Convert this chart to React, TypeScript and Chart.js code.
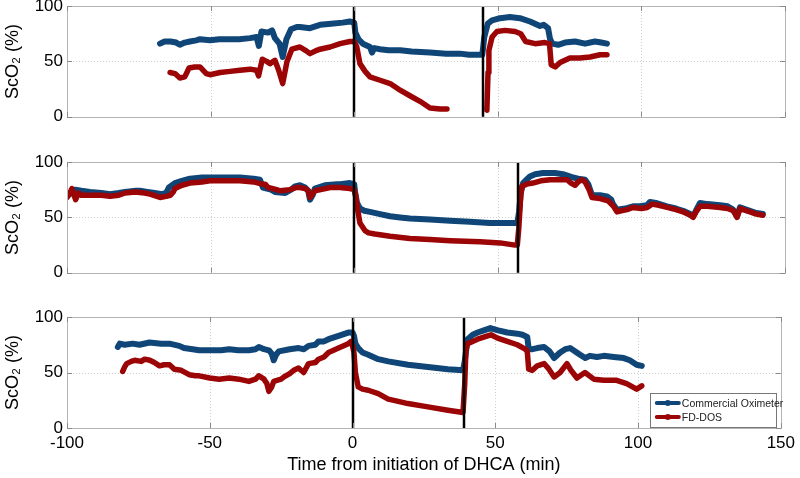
import React, { useEffect, useRef } from "react";
import { Chart, registerables } from "chart.js";

Chart.register(...registerables);

// ---------- axis ticks ----------
const X_TICKS = [-100, -50, 0, 50, 100, 150];
const Y_TICKS = [0, 50, 100];
const X_TITLE = "Time from initiation of DHCA (min)";
const Y_TITLE = "ScO\u2082 (%)";
const SERIES_NAMES = ["Commercial Oximeter", "FD-DOS"];

// ---------- panel 1 ----------
const p1Oximeter: [number, number | null][] = [
  [-67.6, 66], [-66, 68], [-64, 68], [-62, 67], [-60.7, 65], [-59, 67], [-57.2, 68], [-55, 69],
  [-53.7, 70], [-50.2, 69], [-47, 70], [-43.2, 70], [-40, 70], [-36.3, 71], [-34, 72], [-33.2, 64],
  [-32.3, 77], [-30, 76], [-28.6, 78], [-27.6, 71], [-26, 66], [-24.9, 54], [-23.6, 70], [-22, 79],
  [-20, 81], [-18.9, 81], [-15.4, 80], [-11.9, 83], [-8, 84], [-4, 85], [-1.5, 86], [0, 85],
  [0.4, 76], [1.5, 70], [3, 66], [5.5, 63], [6.2, 58], [7, 62], [9, 61], [12, 60], [16, 60],
  [20, 59], [26.4, 58], [32, 57], [36.8, 57], [40, 56], [43.8, 56], [44.6, 56], [45.3, 72],
  [46.5, 84], [48, 87], [50.8, 89], [54.2, 90], [57.7, 89], [61.2, 86], [64.7, 82], [66, 83],
  [67.5, 80], [68.2, 70], [69, 66], [71, 65], [73.4, 67], [76.9, 68], [80.4, 66], [83.8, 68],
  [86, 67], [88, 66],
];
const p1FdDos: [number, number | null][] = [
  [-64.1, 40], [-62.4, 39], [-60.7, 35], [-59, 36], [-57.5, 44], [-55.5, 45], [-53.7, 45],
  [-51.5, 39], [-50.2, 38], [-46.7, 40], [-43.2, 41], [-39.8, 42], [-36.3, 43], [-34, 42],
  [-33.3, 37], [-32, 52], [-30.5, 50], [-29.3, 48], [-27.6, 51], [-26.3, 42], [-24.9, 30],
  [-23.4, 50], [-21.7, 61], [-18.9, 63], [-17, 60], [-15.4, 57], [-13, 60], [-11.9, 61],
  [-8.4, 63], [-4.9, 66], [-1.5, 68], [0, 68], [0.9, 63], [2, 48], [3.8, 41], [5.5, 36], [9, 33],
  [12.5, 30], [16, 24], [19.4, 19], [22.9, 14], [26.4, 8], [29.9, 7], [32.3, 7], [39, null],
  [46.2, 6], [46.6, 40], [46.9, 60], [48, 72], [49.7, 77], [52.5, 78], [56, 77], [58, 75],
  [59.7, 68], [63, 66], [66.4, 67], [68, 66], [68.6, 47], [70, 45], [71.7, 49], [75.1, 53],
  [78.6, 53], [82.1, 54], [85.6, 56], [88, 56],
];
const p1Events = [0, 45];

// ---------- panel 2 ----------
const p2Oximeter: [number, number | null][] = [
  [-99.5, 70], [-98, 73], [-97.2, 75], [-95, 74], [-92, 73], [-88, 72], [-85, 71], [-82, 72],
  [-79.8, 73], [-76, 74], [-74.6, 74], [-72, 73], [-69.4, 72], [-67, 71], [-65.5, 72],
  [-64.5, 77], [-62.4, 81], [-60, 83], [-57.2, 85], [-53, 86], [-50.2, 86], [-45, 86],
  [-39.8, 86], [-35, 85], [-32.8, 84], [-31.8, 77], [-29, 75], [-27.6, 73], [-24, 72], [-22, 75],
  [-20.6, 78], [-18.9, 79], [-17.1, 77], [-16, 74], [-15.4, 66], [-14.5, 70], [-13.7, 76],
  [-10.2, 79], [-6, 80], [-4.9, 80], [-1.5, 81], [0, 80], [0.3, 73], [1, 63], [2, 58], [3.5, 56],
  [5.5, 55], [9, 53], [12.5, 51], [16, 50], [19.4, 49], [26.4, 48], [33.4, 47], [40.3, 46],
  [47.3, 45], [52, 45], [56.8, 45], [57.4, 55], [58, 72], [58.8, 81], [60, 84], [61.2, 87],
  [63, 89], [65.7, 90], [69.9, 90], [72.7, 89], [74, 88], [76.2, 86], [78, 85], [80.4, 84],
  [81.5, 80], [82.8, 70], [85.6, 70], [88, 69], [89.5, 66], [90.1, 62], [91.5, 57], [94.3, 58],
  [97.1, 60], [99.5, 60], [101.9, 61], [103, 64], [105, 63], [108.9, 60], [112, 58],
  [114.5, 56], [117, 53], [118, 51], [119, 56], [120.4, 63], [123, 62], [127.4, 61], [130, 60],
  [131.9, 57], [133.3, 51], [134.3, 59], [137.8, 56], [140, 54], [142.3, 53],
];
const p2FdDos: [number, number | null][] = [
  [-100, 68], [-99, 72], [-98.3, 76], [-97.5, 70], [-97, 66], [-96, 72], [-95, 70], [-92, 70],
  [-88, 70], [-85, 69], [-82, 70], [-79.8, 72], [-76.3, 73], [-73, 72], [-71.1, 71], [-67.6, 68],
  [-65.5, 69], [-64, 70], [-63, 73], [-62.4, 76], [-60, 79], [-57.2, 81], [-53, 82], [-50.2, 83],
  [-45, 83], [-39.8, 83], [-35, 82], [-32.1, 80], [-31, 80], [-30, 77], [-27, 75], [-25.8, 74],
  [-22.4, 75], [-20, 77], [-18.9, 77], [-17.1, 76], [-16, 74], [-15.4, 68], [-14.5, 71],
  [-13.7, 74], [-10, 76], [-8.4, 77], [-5, 77], [-1.5, 76], [0, 75], [0.5, 70], [1, 60], [2, 45],
  [3.8, 38], [5, 36], [7.2, 35], [12.5, 33], [19.4, 31], [26.4, 30], [33.4, 29], [43.8, 28],
  [50.8, 27], [56, 25], [56.8, 25], [57.3, 40], [58, 70], [58.4, 78], [60, 80], [62.2, 81],
  [65, 83], [68.2, 84], [71, 84], [74.1, 84], [75.5, 81], [76.9, 79], [78, 82], [79.3, 84],
  [80.4, 82], [81.8, 75], [82.8, 68], [85.6, 67], [88.4, 65], [90.3, 60], [91.5, 55], [93, 56],
  [95, 57], [97, 59], [100, 58], [102, 59], [103.7, 62], [106, 61], [109, 59], [112, 57],
  [114.5, 55], [117, 52], [118, 50], [119, 55], [120.4, 60], [123, 60], [127.4, 59], [130, 58],
  [132, 56], [133.3, 50], [134.3, 58], [137.8, 55], [140, 53], [142.3, 52],
];
const p2Events = [0, 57];

// ---------- panel 3 ----------
const p3Oximeter: [number, number | null][] = [
  [-82.2, 73], [-81.5, 76], [-79.8, 75], [-77, 76], [-74.6, 75], [-71.1, 77], [-67, 76],
  [-64.1, 76], [-60.7, 74], [-59, 72], [-56, 71], [-53.7, 70], [-50, 70], [-46, 70], [-43.2, 71],
  [-40, 70], [-36.3, 70], [-34, 71], [-32.8, 73], [-31, 71], [-29.3, 70], [-28.3, 67],
  [-27.6, 61], [-26.8, 66], [-25.8, 69], [-22, 71], [-18.9, 72], [-17, 71], [-15.4, 74],
  [-13, 75], [-11.9, 78], [-10, 78], [-8.4, 80], [-4.9, 83], [-1.5, 86], [0, 86], [0.5, 83],
  [1, 76], [2, 72], [3.5, 68], [5.5, 66], [9, 62], [12.5, 60], [19.4, 57], [26.4, 55],
  [33.4, 53], [38.7, 52], [39.3, 60], [40.3, 80], [42.1, 84], [43.8, 86], [46, 88], [48.3, 90],
  [51, 88], [54.2, 86], [57.7, 85], [59.5, 84], [61.2, 82], [61.7, 71], [63, 71], [64.7, 72],
  [67.1, 73], [69, 69], [70.6, 63], [72.7, 68], [74.5, 71], [76.2, 72], [78, 69], [79.7, 66],
  [81.5, 63], [83.1, 65], [85.6, 64], [88, 65], [91.5, 64], [95, 63], [97.1, 61], [99.5, 57],
  [101.3, 56],
];
const p3FdDos: [number, number | null][] = [
  [-80.5, 51], [-79.8, 55], [-79.1, 58], [-77.5, 60], [-76.3, 61], [-74, 60], [-72.8, 62],
  [-71, 61], [-69.4, 59], [-67.6, 56], [-66, 57], [-64.1, 57], [-62.4, 53], [-60, 52],
  [-57.2, 48], [-55, 47], [-53.7, 47], [-50, 45], [-46.7, 44], [-43.2, 45], [-39.8, 44],
  [-36.3, 42], [-34, 44], [-32.8, 47], [-31, 44], [-30, 40], [-29.3, 33], [-28.3, 37],
  [-27.6, 42], [-25, 44], [-24, 46], [-22, 49], [-20.6, 52], [-18.9, 54], [-17.1, 50],
  [-15.4, 58], [-13, 59], [-11.9, 62], [-10, 64], [-8.4, 68], [-4.9, 72], [-1.5, 76],
  [-0.5, 78], [0, 74], [0.5, 68], [1, 50], [2, 37], [3.5, 35], [5.5, 34], [9, 31], [12.5, 26],
  [16, 24], [19.4, 22], [26.4, 19], [33.4, 16], [38.7, 14], [39.3, 40], [39.7, 70], [40.3, 76],
  [43.8, 80], [47.3, 83], [48.5, 84], [50.8, 81], [54.2, 78], [57.7, 75], [60.5, 71],
  [61.2, 69], [61.7, 53], [63, 52], [64.7, 56], [67.1, 58], [68.5, 54], [70.6, 46], [72.7, 50],
  [75.1, 58], [76.5, 52], [78.6, 45], [81.4, 50], [84.5, 44], [88, 43], [92.5, 43], [96, 40],
  [99.5, 35], [101.3, 38],
];
const p3Events = [0, 39];

// ---------- styles ----------
const BLUE = "#0f4677";
const RED = "#9c0505";
const FONT = "'Liberation Sans', Arial, Helvetica, sans-serif";

const framePlugin = {
  id: "frame",
  beforeDatasetsDraw(chart: any) {
    const { ctx, chartArea: a, scales } = chart;
    ctx.save();
    ctx.strokeStyle = "#cfcfcf";
    ctx.lineWidth = 1;
    ctx.setLineDash([1, 2]);
    X_TICKS.forEach((v) => {
      const px = Math.round(scales.x.getPixelForValue(v)) + 0.5;
      ctx.beginPath();
      ctx.moveTo(px, a.top);
      ctx.lineTo(px, a.bottom);
      ctx.stroke();
    });
    Y_TICKS.forEach((v) => {
      const py = Math.round(scales.y.getPixelForValue(v)) + 0.5;
      ctx.beginPath();
      ctx.moveTo(a.left, py);
      ctx.lineTo(a.right, py);
      ctx.stroke();
    });
    ctx.restore();
  },
  afterDatasetsDraw(chart: any, _args: any, opts: any) {
    const { ctx, chartArea: a, scales } = chart;
    ctx.save();
    // event lines
    ctx.strokeStyle = "#000";
    ctx.lineWidth = 2.5;
    (opts.events || []).forEach((v: number) => {
      const px = Math.round(scales.x.getPixelForValue(v));
      ctx.beginPath();
      ctx.moveTo(px, a.top);
      ctx.lineTo(px, a.bottom);
      ctx.stroke();
    });
    // box
    ctx.strokeStyle = "#b4b4b4";
    ctx.lineWidth = 1;
    ctx.strokeRect(Math.round(a.left) + 0.5, Math.round(a.top) + 0.5, Math.round(a.right - a.left), Math.round(a.bottom - a.top));
    // tick marks
    ctx.strokeStyle = "#8a8a8a";
    X_TICKS.forEach((v) => {
      const px = Math.round(scales.x.getPixelForValue(v)) + 0.5;
      ctx.beginPath();
      ctx.moveTo(px, a.bottom);
      ctx.lineTo(px, a.bottom - 5);
      ctx.moveTo(px, a.top);
      ctx.lineTo(px, a.top + 5);
      ctx.stroke();
    });
    Y_TICKS.forEach((v) => {
      const py = Math.round(scales.y.getPixelForValue(v)) + 0.5;
      ctx.beginPath();
      ctx.moveTo(a.left, py);
      ctx.lineTo(a.left + 5, py);
      ctx.moveTo(a.right, py);
      ctx.lineTo(a.right - 5, py);
      ctx.stroke();
    });
    // legend
    if (opts.legend) {
      const w = 126;
      const h = 34;
      const right = a.right - 5;
      const bottom = a.bottom - 1;
      const left = right - w;
      const top = bottom - h;
      ctx.fillStyle = "#fff";
      ctx.fillRect(left, top, w, h);
      ctx.strokeStyle = "#777";
      ctx.lineWidth = 1;
      ctx.strokeRect(Math.round(left) + 0.5, Math.round(top) + 0.5, w, h);
      const ds = chart.data.datasets;
      const order = [1, 0];
      order.forEach((di, row) => {
        const d = ds[di];
        const y = Math.round(top + 10 + row * 14);
        ctx.strokeStyle = d.borderColor;
        ctx.lineWidth = 4;
        ctx.lineCap = "round";
        ctx.beginPath();
        ctx.moveTo(left + 7, y);
        ctx.lineTo(left + 29, y);
        ctx.stroke();
        ctx.fillStyle = d.borderColor;
        ctx.beginPath();
        ctx.arc(left + 18, y, 3, 0, Math.PI * 2);
        ctx.fill();
        ctx.fillStyle = "#222";
        ctx.font = `10.5px ${FONT}`;
        ctx.textBaseline = "middle";
        ctx.textAlign = "left";
        ctx.fillText(d.label, left + 32, y + 1);
      });
    }
    ctx.restore();
  },
};

type Series = [number, number | null][];

function toXY(s: Series) {
  return s.map(([x, y]) => ({ x, y }));
}

function Panel(props: {
  oximeter: Series;
  fdDos: Series;
  events: number[];
  showX: boolean;
  legend: boolean;
  top: number;
  height: number;
}) {
  const ref = useRef<HTMLCanvasElement | null>(null);
  useEffect(() => {
    if (!ref.current) return;
    const tickFont = { family: FONT, size: 17 };
    const chart = new Chart(ref.current, {
      type: "line",
      data: {
        datasets: [
          {
            label: SERIES_NAMES[1],
            data: toXY(props.fdDos) as any,
            borderColor: RED,
            backgroundColor: RED,
            borderWidth: 5.5,
            pointRadius: 0,
            borderJoinStyle: "round",
            borderCapStyle: "round",
            tension: 0,
            order: 0,
          },
          {
            label: SERIES_NAMES[0],
            data: toXY(props.oximeter) as any,
            borderColor: BLUE,
            backgroundColor: BLUE,
            borderWidth: 6,
            pointRadius: 0,
            borderJoinStyle: "round",
            borderCapStyle: "round",
            tension: 0,
            order: 1,
          },
        ],
      },
      options: {
        animation: false,
        responsive: false,
        maintainAspectRatio: false,
        events: [],
        layout: { padding: { top: 20, bottom: props.showX ? 0 : 14, left: 0, right: 15 } },
        plugins: {
          legend: { display: false },
          tooltip: { enabled: false },
          // @ts-ignore
          frame: { events: props.events, legend: props.legend },
        },
        scales: {
          x: {
            type: "linear",
            min: X_TICKS[0],
            max: X_TICKS[X_TICKS.length - 1],
            afterBuildTicks: (s: any) => {
              s.ticks = X_TICKS.map((v) => ({ value: v }));
            },
            afterFit: (s: any) => {
              s.height = props.showX ? 50 : 0;
            },
            grid: { display: false, drawTicks: false },
            border: { display: false },
            ticks: {
              display: props.showX,
              font: tickFont,
              color: "#000",
              padding: 5,
              maxRotation: 0,
              autoSkip: false,
              callback: (v: any) => String(v),
            },
            title: {
              display: props.showX,
              text: X_TITLE,
              font: { family: FONT, size: 18 },
              color: "#000",
              padding: { top: 0, bottom: 2 },
            },
          },
          y: {
            type: "linear",
            min: Y_TICKS[0],
            max: Y_TICKS[Y_TICKS.length - 1],
            afterBuildTicks: (s: any) => {
              s.ticks = Y_TICKS.map((v) => ({ value: v }));
            },
            afterFit: (s: any) => {
              s.width = 67;
            },
            grid: { display: false, drawTicks: false },
            border: { display: false },
            ticks: {
              font: tickFont,
              color: "#000",
              padding: 4,
              callback: (v: any) => String(v),
            },
            title: {
              display: true,
              text: Y_TITLE,
              font: { family: FONT, size: 18 },
              color: "#000",
              padding: { top: 2, bottom: 0 },
            },
          },
        },
      },
      plugins: [framePlugin],
    });
    return () => chart.destroy();
  }, []);
  return (
    <div style={{ position: "absolute", left: 0, top: props.top, width: 800, height: props.height }}>
      <canvas ref={ref} width={800} height={props.height} style={{ width: 800, height: props.height, display: "block" }} />
    </div>
  );
}

export default function App() {
  return (
    <div style={{ position: "absolute", left: 0, top: 0, width: 800, height: 478, overflow: "hidden", background: "#fff" }}>
      <Panel oximeter={p1Oximeter} fdDos={p1FdDos} events={p1Events} showX={false} legend={false} top={-14} height={145} />
      <Panel oximeter={p2Oximeter} fdDos={p2FdDos} events={p2Events} showX={false} legend={false} top={142} height={145} />
      <Panel oximeter={p3Oximeter} fdDos={p3FdDos} events={p3Events} showX={true} legend={true} top={297} height={181} />
    </div>
  );
}
